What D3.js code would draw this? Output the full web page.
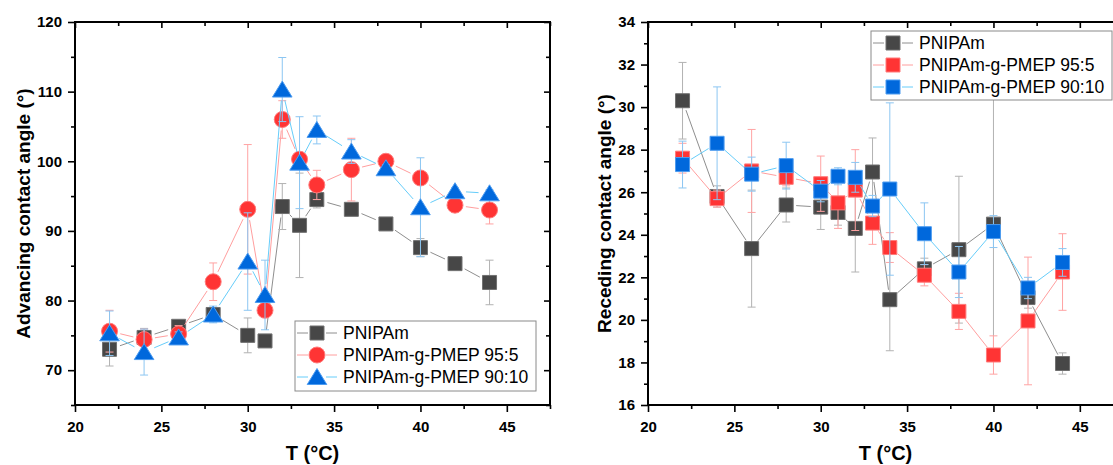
<!DOCTYPE html>
<html>
<head>
<meta charset="utf-8">
<script src="https://cdn.jsdelivr.net/npm/d3@7"></script>
<style>
body { margin: 0; background: #fff; }
svg { display: block; font-family: "Liberation Sans", Arial, sans-serif; }
</style>
</head>
<body>
<script>
var width = 1113, height = 465;

var temps = [22, 24, 26, 28, 30, 31, 32, 33, 34, 36, 38, 40, 42, 44];
var seriesNames = ["PNIPAm", "PNIPAm-g-PMEP 95:5", "PNIPAm-g-PMEP 90:10"];
var xTicks = [20, 25, 30, 35, 40, 45];
var xMinor = [22.5, 27.5, 32.5, 37.5, 42.5, 47.5];

// advancing contact angle (deg) and error bars
var advPNIPAm = [73.0, 74.7, 76.3, 78.0, 75.0, 74.2, 93.5, 90.8, 94.5, 93.1, 91.0, 87.6, 85.3, 82.6];
var advPNIPAmErr = [2.4, 1.3, 0.8, 0.8, 2.5, 0.5, 3.3, 7.5, 1.2, 0.5, 0.8, 1.3, 0.7, 3.2];
var adv955 = [75.6, 74.4, 75.2, 82.7, 93.1, 78.6, 106.0, 100.3, 96.6, 98.8, 100.0, 97.6, 93.7, 93.0];
var adv955Err = [3.0, 1.5, 1.2, 2.7, 9.3, 1.0, 2.7, 1.0, 2.1, 4.5, 0.5, 0.5, 1.0, 2.0];
var adv9010 = [75.3, 72.6, 74.7, 78.0, 85.6, 80.8, 110.3, 99.8, 104.5, 101.4, 99.0, 93.4, 95.7, 95.4];
var adv9010Err = [3.2, 3.3, 0.8, 1.2, 7.0, 5.0, 4.6, 6.6, 2.0, 1.7, 0.5, 7.1, 0.5, 0.5];
var advTicks = [70, 80, 90, 100, 110, 120];
var advMinor = [65, 75, 85, 95, 105, 115];

// receding contact angle (deg) and error bars
var recPNIPAm = [30.3, 25.8, 23.35, 25.4, 25.3, 25.05, 24.3, 26.95, 20.95, 22.4, 23.3, 24.5, 21.05, 17.95];
var recPNIPAmErr = [1.8, 0.5, 2.75, 0.8, 1.05, 0.6, 2.05, 1.6, 2.4, 0.5, 3.45, 6.0, 0.5, 0.5];
var rec955 = [27.6, 25.7, 27.0, 26.7, 26.4, 25.5, 26.1, 24.55, 23.4, 22.1, 20.4, 18.35, 19.95, 22.25];
var rec955Err = [0.7, 0.4, 1.95, 0.4, 1.3, 1.2, 1.9, 1.0, 0.7, 0.5, 0.85, 0.9, 3.0, 1.8];
var rec9010 = [27.3, 28.3, 26.85, 27.25, 26.05, 26.75, 26.7, 25.35, 26.15, 24.05, 22.25, 24.15, 21.5, 22.7];
var rec9010Err = [1.1, 2.65, 0.8, 1.1, 0.5, 0.4, 0.7, 0.5, 4.05, 1.45, 1.2, 0.75, 0.5, 0.65];
var recTicks = [16, 18, 20, 22, 24, 26, 28, 30, 32, 34];
var recMinor = [17, 19, 21, 23, 25, 27, 29, 31, 33];

var styles = [
    { fill: "#474747", stroke: "#707070", line: "#8e8e8e", err: "#b2b2b2" },
    { fill: "#ff3434", stroke: "#ff7a7a", line: "#ff9e9e", err: "#ffa3a3" },
    { fill: "#0068dc", stroke: "#4d9cf0", line: "#66cdfa", err: "#8cc6f2" }
];

var svg = d3.select("body").append("svg")
    .attr("width", width)
    .attr("height", height);

function markerPath(shape) {
    if (shape == "circle") return d3.symbol(d3.symbolCircle, Math.PI * 8 * 8)();
    if (shape == "triangle") return "M0,-8.5L9.8,7.5L-9.8,7.5Z";
    return "M-7,-7H7V7H-7Z";
}

function drawPanel(p) {
    var x = d3.scaleLinear().domain([20, 47.5]).range([p.left, p.right]);
    var y = d3.scaleLinear().domain(p.yDomain).range([p.bottom, p.top]);
    var g = svg.append("g");

    // ticks
    function styleAxis(sel) {
        sel.select(".domain").remove();
        sel.selectAll("line").attr("stroke", "#000").attr("stroke-width", 1.6);
        sel.selectAll("text").attr("fill", "#000").style("font-size", "15px").style("font-weight", "bold");
    }
    g.append("g").attr("transform", "translate(0," + p.bottom + ")")
        .call(d3.axisBottom(x).tickValues(xTicks).tickSize(7).tickSizeOuter(0).tickFormat(d3.format("d")))
        .call(styleAxis)
        .selectAll("text").attr("y", 27).attr("dy", 0);
    g.append("g").attr("transform", "translate(0," + p.bottom + ")")
        .call(d3.axisBottom(x).tickValues(xMinor).tickSize(4).tickSizeOuter(0).tickFormat(""))
        .call(styleAxis);
    g.append("g").attr("transform", "translate(0," + p.top + ")")
        .call(d3.axisTop(x).tickValues(xTicks).tickSize(-6).tickSizeOuter(0).tickFormat(""))
        .call(styleAxis);
    g.append("g").attr("transform", "translate(0," + p.top + ")")
        .call(d3.axisTop(x).tickValues(xMinor).tickSize(-4).tickSizeOuter(0).tickFormat(""))
        .call(styleAxis);
    g.append("g").attr("transform", "translate(" + p.left + ",0)")
        .call(d3.axisLeft(y).tickValues(p.yTicks).tickSize(7).tickPadding(6).tickSizeOuter(0).tickFormat(d3.format("d")))
        .call(styleAxis);
    g.append("g").attr("transform", "translate(" + p.left + ",0)")
        .call(d3.axisLeft(y).tickValues(p.yMinor).tickSize(4).tickSizeOuter(0).tickFormat(""))
        .call(styleAxis);
    g.append("g").attr("transform", "translate(" + p.right + ",0)")
        .call(d3.axisRight(y).tickValues(p.yTicks).tickSize(-6).tickSizeOuter(0).tickFormat(""))
        .call(styleAxis);
    g.append("g").attr("transform", "translate(" + p.right + ",0)")
        .call(d3.axisRight(y).tickValues(p.yMinor).tickSize(-4).tickSizeOuter(0).tickFormat(""))
        .call(styleAxis);

    // frame
    g.append("rect")
        .attr("x", p.left).attr("y", p.top)
        .attr("width", p.right - p.left).attr("height", p.bottom - p.top)
        .attr("fill", "none").attr("stroke", "#000").attr("stroke-width", 2);

    // series
    p.series.forEach(function (s, i) {
        var st = styles[i];
        var sg = g.append("g");
        var pts = temps.map(function (t, j) { return [x(t), y(s.values[j])]; });
        var gap = p.gap;
        var segs = [];
        for (var j = 0; j < pts.length - 1; j++) {
            var a = pts[j], b = pts[j + 1];
            var dx = b[0] - a[0], dy = b[1] - a[1];
            var len = Math.sqrt(dx * dx + dy * dy);
            if (len <= 2 * gap) continue;
            var ux = dx / len, uy = dy / len;
            segs.push([a[0] + ux * gap, a[1] + uy * gap, b[0] - ux * gap, b[1] - uy * gap]);
        }
        sg.selectAll(".seg").data(segs).enter().append("line")
            .attr("x1", function (d) { return d[0]; })
            .attr("y1", function (d) { return d[1]; })
            .attr("x2", function (d) { return d[2]; })
            .attr("y2", function (d) { return d[3]; })
            .attr("stroke", st.line).attr("stroke-width", 1);

        var eb = sg.selectAll(".err").data(temps).enter().append("g")
            .attr("stroke", st.err).attr("stroke-width", 1);
        eb.append("line")
            .attr("x1", function (t) { return x(t); })
            .attr("x2", function (t) { return x(t); })
            .attr("y1", function (t, j) { return y(s.values[j] - s.errors[j]); })
            .attr("y2", function (t, j) { return y(s.values[j] + s.errors[j]); });
        [-1, 1].forEach(function (sign) {
            eb.append("line")
                .attr("x1", function (t) { return x(t) - 4; })
                .attr("x2", function (t) { return x(t) + 4; })
                .attr("y1", function (t, j) { return y(s.values[j] + sign * s.errors[j]); })
                .attr("y2", function (t, j) { return y(s.values[j] + sign * s.errors[j]); });
        });

        sg.selectAll(".mk").data(temps).enter().append("path")
            .attr("d", markerPath(p.shapes[i]))
            .attr("transform", function (t, j) { return "translate(" + x(t) + "," + y(s.values[j]) + ")"; })
            .attr("fill", st.fill).attr("stroke", st.stroke).attr("stroke-width", 1);
    });

    // axis titles
    svg.append("text")
        .attr("transform", "translate(" + p.yTitleX + "," + ((p.top + p.bottom) / 2) + ") rotate(-90)")
        .attr("text-anchor", "middle")
        .style("font-size", "19px").style("font-weight", "bold")
        .text(p.yTitle);
    svg.append("text")
        .attr("x", (p.left + p.right) / 2).attr("y", 460)
        .attr("text-anchor", "middle")
        .style("font-size", "20px").style("font-weight", "bold")
        .text("T (°C)");

    // legend
    var lg = svg.append("g");
    lg.append("rect")
        .attr("x", p.legend.x).attr("y", p.legend.y)
        .attr("width", p.legend.w).attr("height", p.legend.h)
        .attr("fill", "#fff").attr("stroke", "#8a8a8a").attr("stroke-width", 1);
    seriesNames.forEach(function (name, i) {
        var cy = p.legend.y + 12 + i * 22;
        var cx = p.legend.x + 22;
        var st = styles[i];
        lg.append("line").attr("x1", cx - 20).attr("x2", cx - 9).attr("y1", cy).attr("y2", cy)
            .attr("stroke", st.line).attr("stroke-width", 1);
        lg.append("line").attr("x1", cx + 9).attr("x2", cx + 20).attr("y1", cy).attr("y2", cy)
            .attr("stroke", st.line).attr("stroke-width", 1);
        lg.append("path").attr("d", markerPath(p.shapes[i]))
            .attr("transform", "translate(" + cx + "," + cy + ")")
            .attr("fill", st.fill).attr("stroke", st.stroke).attr("stroke-width", 1);
        lg.append("text").attr("x", cx + 26).attr("y", cy + 6)
            .style("font-size", "17.5px")
            .text(name);
    });
}

drawPanel({
    left: 75, right: 550, top: 22, bottom: 405,
    yDomain: [65, 120], yTicks: advTicks, yMinor: advMinor,
    yTitle: "Advancing contact angle (°)", yTitleX: 30,
    shapes: ["square", "circle", "triangle"], gap: 11,
    series: [
        { values: advPNIPAm, errors: advPNIPAmErr },
        { values: adv955, errors: adv955Err },
        { values: adv9010, errors: adv9010Err }
    ],
    legend: { x: 295, y: 321, w: 241, h: 70 }
});

drawPanel({
    left: 648, right: 1123, top: 22, bottom: 405,
    yDomain: [16, 34], yTicks: recTicks, yMinor: recMinor,
    yTitle: "Receding contact angle (°)", yTitleX: 611,
    shapes: ["square", "square", "square"], gap: 10,
    series: [
        { values: recPNIPAm, errors: recPNIPAmErr },
        { values: rec955, errors: rec955Err },
        { values: rec9010, errors: rec9010Err }
    ],
    legend: { x: 871, y: 31, w: 241, h: 69 }
});
</script>
</body>
</html>
